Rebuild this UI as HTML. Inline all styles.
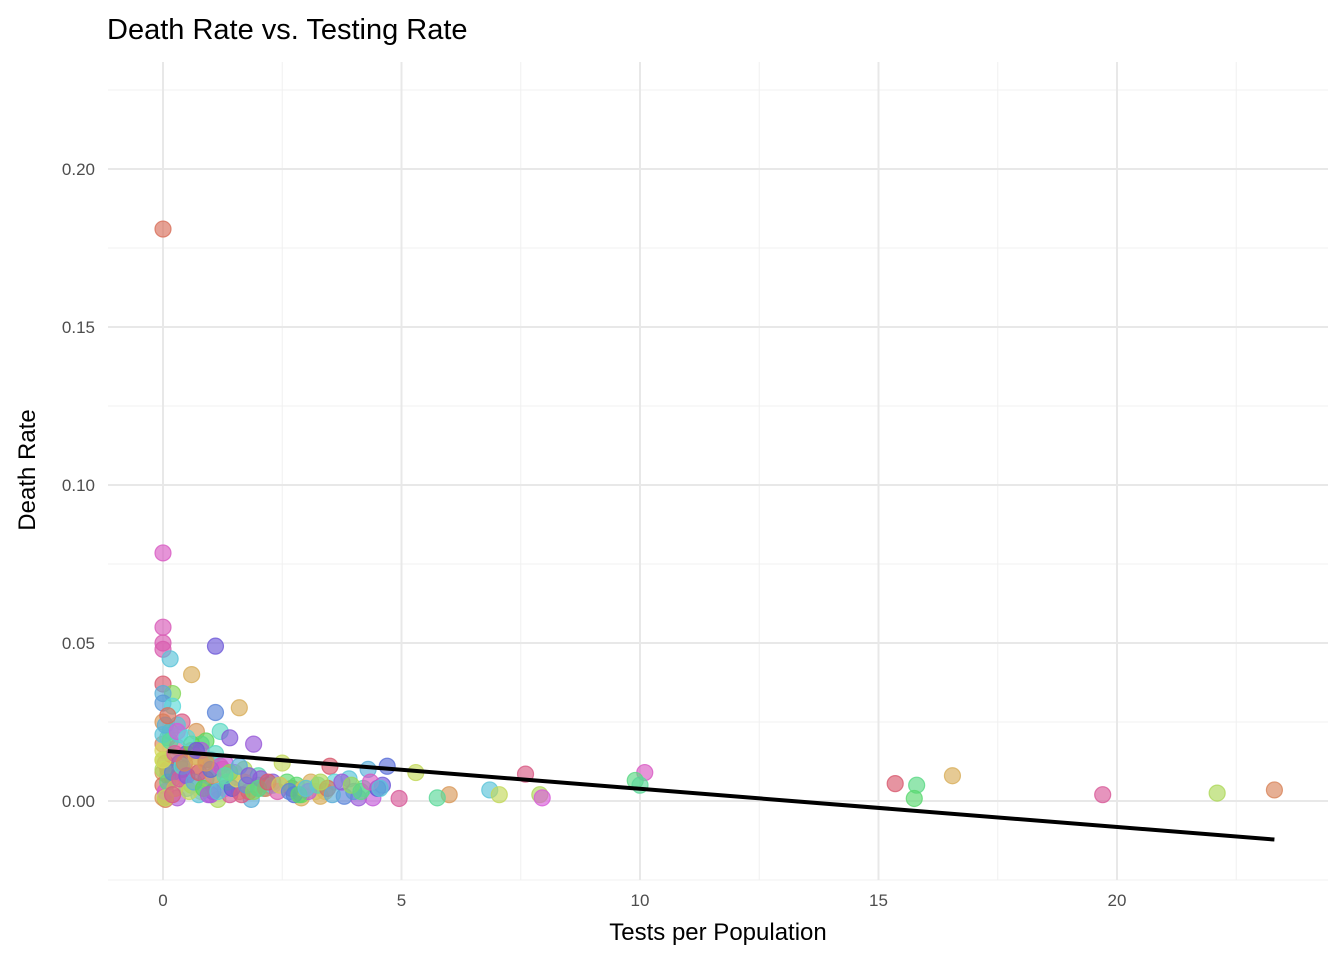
<!DOCTYPE html>
<html><head><meta charset="utf-8"><style>
body{margin:0;background:#fff;font-family:"Liberation Sans",sans-serif}
</style></head><body>
<svg id="chart" width="1344" height="960" xmlns="http://www.w3.org/2000/svg">
<text x="107" y="39" font-size="29" fill="#000">Death Rate vs. Testing Rate</text>
<g id="grid"></g>
<g id="pts"></g>
<g id="fit"></g>
<g id="axes"></g>
<text x="718" y="940" font-size="24" text-anchor="middle">Tests per Population</text>
<text transform="translate(35,470) rotate(-90)" font-size="24" text-anchor="middle">Death Rate</text>
</svg>
<script>
const xTicks=[0,5,10,15,20];
const yTicks=[0,0.05,0.10,0.15,0.20];
const yTickLabels=["0.00","0.05","0.10","0.15","0.20"];
const xs=[0,0,0,0,0,0.15,1.1,0.6,0,0.2,0,0,0.2,1.6,1.1,0,0.4,0.3,1.2,0.7,1.4,0.9,1.9,0,0,0.1,0.3,0.5,0.8,1.0,1.3,0.2,0.6,0.05,0.4,0.7,1.5,1.7,2.0,0.1,0.9,1.2,
3.5,4.7,4.3,5.3,7.6,10.1,9.9,10,6.85,7.05,7.9,7.95,6.0,5.75,4.95,15.35,15.8,15.75,16.55,19.7,22.1,23.3,
3.8,4.1,4.4,2.9,3.3,2.9,1.85,1.15,0.3,0.05,0,3.9,3.6,3.1,2.5,2.3,2.0,2.7,4.6,4.2,1.6,1.4,0.8,0.5,2.2,3.2,1.0,1.8,0.6,0.2,0,0.35,1.3,2.8,4.0,4.5,0.9,0.15,1.7,2.1,0.45,0,0.1,1.05,3.4,0.75,
0,0,0,0.05,0.1,0.2,0.25,0.35,0.4,0.5,0.55,0.65,0.75,0.85,0.95,1.05,1.15,1.25,1.35,1.45,1.55,1.65,1.75,1.9,2.05,2.15,2.3,2.4,2.6,2.75,2.95,3.05,3.25,3.45,3.55,3.75,3.95,4.15,4.35,4.55,
0,0.05,0.15,0.25,0.35,0.45,0.6,0.7,0.8,1.0,1.1,1.2,1.4,1.6,1.8,2.0,2.2,2.45,2.65,2.85,3.0,3.3,0.1,0.3,0.5,0.7,0.9,1.3,0.05,0.2];
const ys=[0.181,0.0785,0.055,0.050,0.048,0.045,0.049,0.040,0.037,0.034,0.034,0.031,0.030,0.0295,0.028,0.025,0.025,0.024,0.022,0.022,0.020,0.019,0.018,0.018,0.016,0.020,0.017,0.015,0.018,0.013,0.012,0.014,0.016,0.012,0.010,0.011,0.009,0.010,0.008,0.008,0.007,0.006,
0.011,0.011,0.010,0.009,0.0085,0.009,0.0065,0.005,0.0035,0.002,0.002,0.001,0.002,0.001,0.0008,0.0055,0.005,0.0008,0.008,0.002,0.0025,0.0035,
0.0015,0.001,0.001,0.001,0.0015,0.002,0.0005,0.0005,0.001,0.0005,0.001,0.007,0.006,0.006,0.012,0.006,0.005,0.004,0.005,0.004,0.003,0.002,0.003,0.004,0.005,0.003,0.002,0.003,0.005,0.007,0.009,0.012,0.004,0.005,0.003,0.004,0.013,0.022,0.006,0.004,0.008,0.013,0.010,0.003,0.003,0.002,
0.005,0.010,0.021,0.003,0.006,0.009,0.004,0.007,0.011,0.008,0.003,0.006,0.009,0.004,0.002,0.008,0.003,0.010,0.006,0.004,0.007,0.002,0.005,0.003,0.007,0.004,0.005,0.003,0.006,0.002,0.004,0.003,0.005,0.004,0.002,0.006,0.005,0.003,0.006,0.004,
0.013,0.024,0.019,0.015,0.021,0.012,0.018,0.014,0.016,0.010,0.015,0.011,0.009,0.011,0.008,0.004,0.006,0.005,0.003,0.002,0.004,0.006,0.027,0.022,0.020,0.016,0.012,0.008,0.001,0.002];
const hues=[10,310,315,318,320,190,250,40,350,100,200,210,180,40,220,30,340,190,170,30,260,120,270,20,60,150,330,230,140,200,290,90,10,350,110,45,300,80,160,210,260,170,
350,230,200,70,340,310,140,150,190,70,80,300,30,150,330,350,140,130,40,330,80,20,
220,270,290,40,40,110,200,80,280,20,30,190,180,40,70,260,150,350,250,160,30,330,60,200,120,50,280,10,100,340,30,230,300,130,210,240,20,145,50,170,300,90,15,260,45,190,
10,80,190,300,140,220,40,330,170,260,70,200,350,120,280,30,190,310,150,240,60,340,210,100,270,20,180,320,130,230,50,290,160,10,200,270,90,140,310,190,
60,200,150,330,190,20,120,40,280,230,170,310,100,200,260,140,350,50,220,130,190,80,10,300,180,250,30,160,70,340];
const fitX=[0.1,23.3], fitY=[0.0158,-0.0122];
const X=v=>163+v*47.7, Y=v=>801-v*3160;
const ns="http://www.w3.org/2000/svg";
function mk(p,t,a){const e=document.createElementNS(ns,t);for(const k in a)e.setAttribute(k,a[k]);p.appendChild(e);return e;}
const g=document.getElementById('grid'),ax=document.getElementById('axes');
for(let i=0;i<=4;i++){const v=i*5+2.5;const l=mk(g,'line',{x1:X(v),x2:X(v),y1:62,y2:880,stroke:'#f0f0f0','stroke-width':1});
}
for(let i=-1;i<=4;i++){const v=i*0.05+0.025;const l=mk(g,'line',{x1:108,x2:1328,y1:Y(v),y2:Y(v),stroke:'#f0f0f0','stroke-width':1});
}
xTicks.forEach(v=>{const l=mk(g,'line',{x1:X(v),x2:X(v),y1:62,y2:880,stroke:'#e8e8e8','stroke-width':2});

const t=mk(ax,'text',{x:X(v),y:906,'font-size':17,fill:'#4d4d4d','text-anchor':'middle'});t.textContent=v;
});
yTicks.forEach((v,i)=>{const l=mk(g,'line',{x1:108,x2:1328,y1:Y(v),y2:Y(v),stroke:'#e8e8e8','stroke-width':2});

const t=mk(ax,'text',{x:95,y:Y(v)+6,'font-size':17,fill:'#4d4d4d','text-anchor':'end'});t.textContent=yTickLabels[i];
});
const p=document.getElementById('pts');
xs.forEach((x,i)=>{const col=`hsl(${hues[i]},62%,60%)`;
const c=mk(p,'circle',{cx:X(x),cy:Y(ys[i]),r:8,fill:col,'fill-opacity':0.65,stroke:col,'stroke-opacity':0.8,'stroke-width':1.2});
});
const f=mk(document.getElementById('fit'),'line',{x1:X(fitX[0]),y1:Y(fitY[0]),x2:X(fitX[1]),y2:Y(fitY[1]),stroke:'#000','stroke-width':4});

</script>
</body></html>
